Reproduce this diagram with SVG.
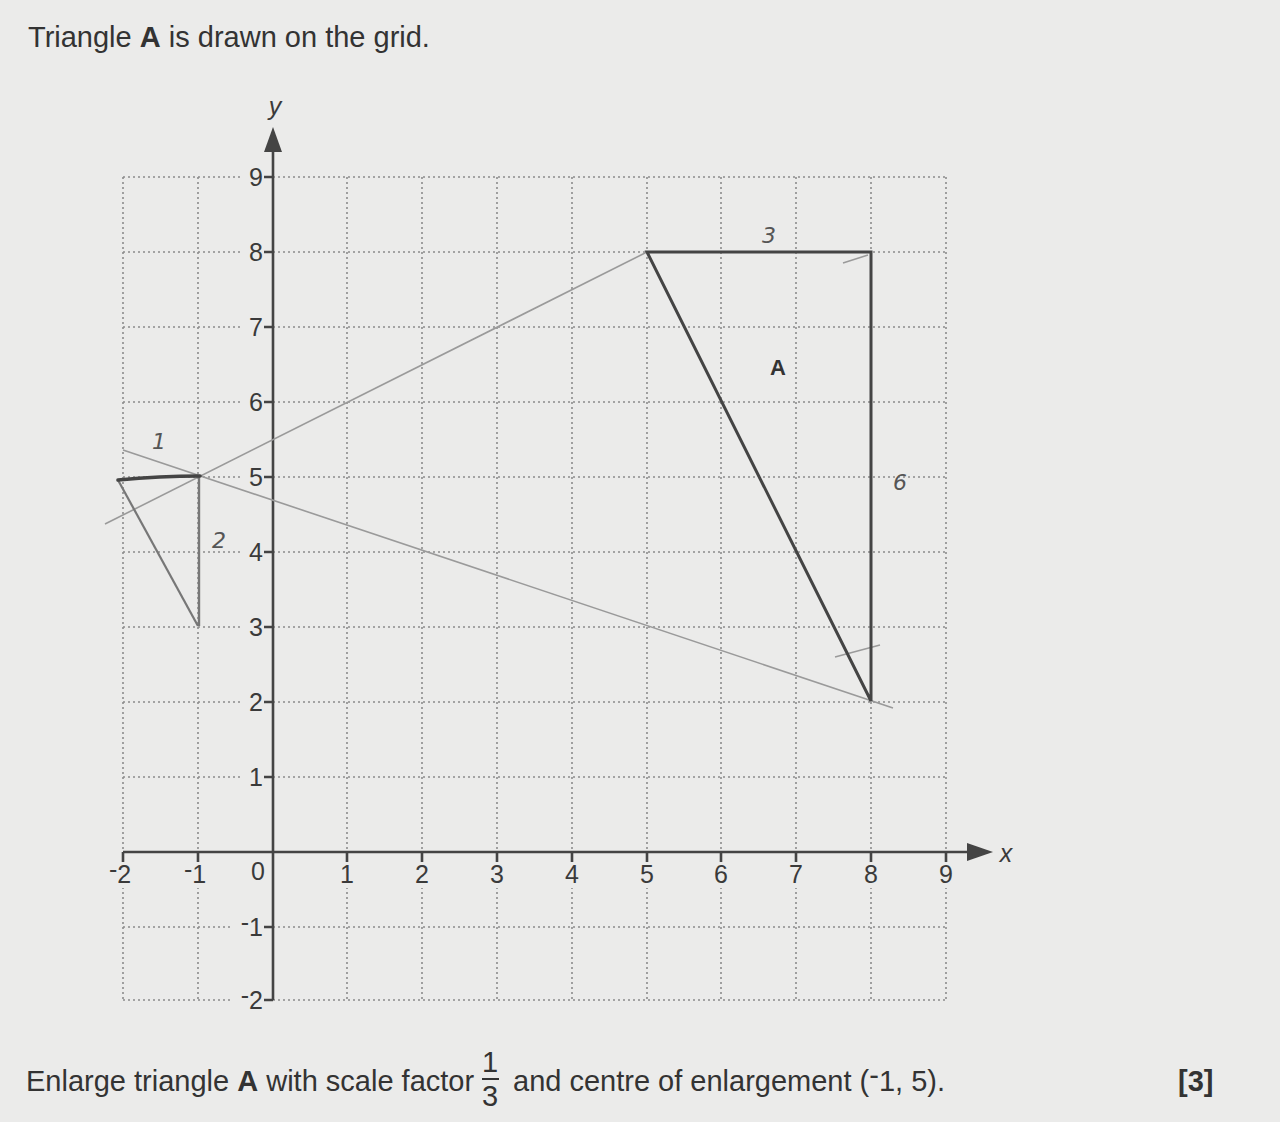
<svg xmlns="http://www.w3.org/2000/svg" width="1280" height="1122" viewBox="0 0 1280 1122">
<defs>
<style>
.t{font-family:"Liberation Sans",Arial,sans-serif;fill:#333;font-size:29px}
.lab{font-family:"Liberation Sans",Arial,sans-serif;fill:#3a3a3a;font-size:25px}
.hand{font-family:"DejaVu Sans",sans-serif;fill:#555;font-size:22px;font-style:italic}
.grid{stroke:#8c8c8c;stroke-width:1.6;stroke-dasharray:2 3;fill:none}
.ax{stroke:#444;stroke-width:2.6;fill:none}
.pen{stroke:#9a9a9a;stroke-width:1.6;fill:none}
.tri{stroke:#444;stroke-width:3;fill:none;stroke-linejoin:miter}
.bg{fill:#ebebea}
</style>
</defs>
<rect width="1280" height="1122" fill="#ebebea"/>
<text class="t" x="28" y="47">Triangle <tspan font-weight="bold">A</tspan> is drawn on the grid.</text>
<g id="grid">
<path class="grid" d="M123 177V1000M198 177V1000M347 177V1000M422 177V1000M497 177V1000M572 177V1000M647 177V1000M721 177V1000M796 177V1000M871 177V1000M946 177V1000"/>
<path class="grid" d="M123 177H946M123 252H946M123 327H946M123 402H946M123 477H946M123 552H946M123 627H946M123 702H946M123 777H946M123 927H946M123 1000H946"/>
</g>
<g id="labelgaps">
<rect class="bg" x="108" y="858" width="852" height="30"/>
<rect class="bg" x="241" y="165" width="32" height="24"/>
<rect class="bg" x="241" y="240" width="32" height="24"/>
<rect class="bg" x="241" y="315" width="32" height="24"/>
<rect class="bg" x="241" y="390" width="32" height="24"/>
<rect class="bg" x="241" y="465" width="32" height="24"/>
<rect class="bg" x="241" y="540" width="32" height="24"/>
<rect class="bg" x="241" y="615" width="32" height="24"/>
<rect class="bg" x="241" y="690" width="32" height="24"/>
<rect class="bg" x="241" y="765" width="32" height="24"/>
<rect class="bg" x="231" y="915" width="42" height="24"/>
<rect class="bg" x="231" y="988" width="42" height="24"/>
</g>
<g id="axes">
<g text-anchor="end">
<text class="lab" x="263" y="186">9</text>
<text class="lab" x="263" y="261">8</text>
<text class="lab" x="263" y="336">7</text>
<text class="lab" x="263" y="411">6</text>
<text class="lab" x="263" y="486">5</text>
<text class="lab" x="263" y="561">4</text>
<text class="lab" x="263" y="636">3</text>
<text class="lab" x="263" y="711">2</text>
<text class="lab" x="263" y="786">1</text>
<text class="lab" x="263" y="936"><tspan dy="-5">-</tspan><tspan dy="5">1</tspan></text>
<text class="lab" x="263" y="1009"><tspan dy="-5">-</tspan><tspan dy="5">2</tspan></text>
</g>
<g text-anchor="middle">
<text class="lab" x="120" y="883"><tspan dy="-5">-</tspan><tspan dy="5">2</tspan></text>
<text class="lab" x="195" y="883"><tspan dy="-5">-</tspan><tspan dy="5">1</tspan></text>
<text class="lab" x="258" y="880">0</text>
<text class="lab" x="347" y="883">1</text>
<text class="lab" x="422" y="883">2</text>
<text class="lab" x="497" y="883">3</text>
<text class="lab" x="572" y="883">4</text>
<text class="lab" x="647" y="883">5</text>
<text class="lab" x="721" y="883">6</text>
<text class="lab" x="796" y="883">7</text>
<text class="lab" x="871" y="883">8</text>
<text class="lab" x="946" y="883">9</text>
</g>
<path class="ax" d="M273 1000V145M123 852H970"/>
<polygon points="273,127 264,152 282,152" fill="#444"/>
<polygon points="993,852 967,843 967,861" fill="#444"/>
<path class="ax" d="M123 852V862M198 852V862M347 852V862M422 852V862M497 852V862M572 852V862M647 852V862M721 852V862M796 852V862M871 852V862M946 852V862"/>
<path class="ax" d="M264 177H273M264 252H273M264 327H273M264 402H273M264 477H273M264 552H273M264 627H273M264 702H273M264 777H273M264 927H273M264 1000H273"/>
<text class="lab" x="275" y="115" font-style="italic" text-anchor="middle">y</text>
<text class="lab" x="1006" y="862" font-style="italic" text-anchor="middle">x</text>
</g>
<g id="construction">
<path class="pen" d="M105 524L647 252"/>
<path class="pen" d="M123 450L893 708"/>
<path class="pen" d="M843 263L868 255"/>
<path class="pen" d="M835 657L880 645"/>
</g>
<g id="triangleA">
<polygon class="tri" points="647,252 871,252 871,701"/>
<text x="778" y="375" text-anchor="middle" font-family="Liberation Sans, Arial, sans-serif" font-weight="bold" font-size="22" fill="#333">A</text>
</g>
<g id="image">
<path d="M118 480L198 626" stroke="#777" stroke-width="2.2" fill="none"/>
<path d="M199 477V626" stroke="#777" stroke-width="2.4" fill="none"/>
<path d="M118 480Q160 476 200 476" stroke="#444" stroke-width="3.6" fill="none" stroke-linecap="round"/>
</g>
<g id="notes">
<text class="hand" x="152" y="449">1</text>
<text class="hand" x="212" y="548">2</text>
<text class="hand" x="762" y="243">3</text>
<text class="hand" x="893" y="490">6</text>
</g>
<text class="t" x="26" y="1091">Enlarge triangle <tspan font-weight="bold">A</tspan> with scale factor</text>
<text class="t" x="490" y="1072" text-anchor="middle">1</text>
<path d="M482 1079H499" stroke="#333" stroke-width="2"/>
<text class="t" x="490" y="1106" text-anchor="middle">3</text>
<text class="t" x="513" y="1091">and centre of enlargement (<tspan dy="-6">-</tspan><tspan dy="6">1, 5).</tspan></text>
<text class="t" x="1178" y="1091" font-weight="bold">[3]</text>
</svg>
